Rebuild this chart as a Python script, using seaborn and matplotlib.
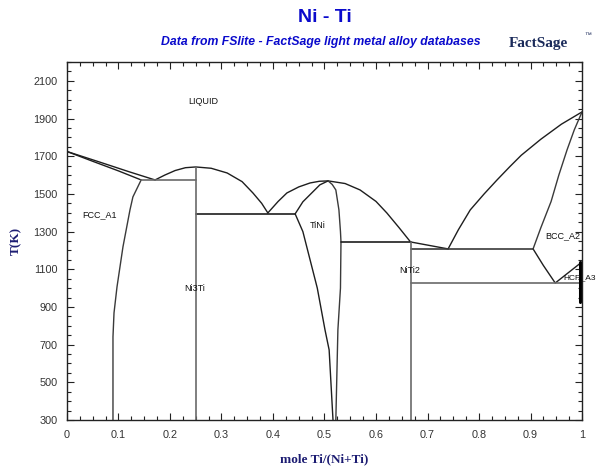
import numpy as np
import pandas as pd
import matplotlib
matplotlib.use("Agg")
import matplotlib.pyplot as plt
from matplotlib.ticker import MultipleLocator, FormatStrFormatter
import seaborn as sns

# phase boundaries, x = mole Ti/(Ni+Ti), T in K
ni_liquidus_x = [0.0, 0.06, 0.12, 0.171]
ni_liquidus_t = [1725, 1672, 1618, 1574]
ni_solidus_x = [0.0, 0.05, 0.10, 0.144]
ni_solidus_t = [1725, 1673, 1622, 1574]
fcc_solvus_x = [0.144, 0.128, 0.1223, 0.1087, 0.0971, 0.0913, 0.0893, 0.0893]
fcc_solvus_t = [1574, 1484, 1415, 1219, 1006, 868, 741, 300]
ni3ti_dome_x = [0.171, 0.19, 0.21, 0.23, 0.25, 0.28, 0.311, 0.34, 0.361, 0.378, 0.39]
ni3ti_dome_t = [1574, 1600, 1624, 1639, 1643, 1636, 1611, 1565, 1505, 1450, 1399]
tini_dome_x = [0.39, 0.41, 0.427, 0.45, 0.472, 0.49, 0.507, 0.54, 0.569, 0.60, 0.621, 0.645, 0.667]
tini_dome_t = [1399, 1460, 1505, 1537, 1558, 1567, 1569, 1555, 1521, 1460, 1399, 1320, 1245]
tini_left_x = [0.507, 0.491, 0.458, 0.443, 0.458, 0.472, 0.486, 0.501, 0.509, 0.5165]
tini_left_t = [1569, 1548, 1458, 1394, 1300, 1150, 1000, 778, 672, 300]
tini_right_x = [0.507, 0.515, 0.522, 0.528, 0.531, 0.532, 0.531, 0.526, 0.522]
tini_right_t = [1569, 1550, 1521, 1415, 1300, 1245, 1000, 778, 300]
niti2_liq_x = [0.667, 0.74]
niti2_liq_t = [1245, 1208]
bcc_liquidus_x = [0.74, 0.76, 0.783, 0.81, 0.835, 0.86, 0.882, 0.92, 0.96, 1.0]
bcc_liquidus_t = [1208, 1310, 1415, 1500, 1574, 1645, 1705, 1790, 1870, 1935]
bcc_solidus_x = [0.905, 0.92, 0.94, 0.955, 0.971, 0.985, 1.0]
bcc_solidus_t = [1208, 1320, 1460, 1600, 1734, 1840, 1935]
bcc_hcp_x = [0.905, 0.925, 0.948, 1.0]
bcc_hcp_t = [1208, 1120, 1027, 1139]
hcp_x = [0.997, 0.997]
hcp_t = [1139, 925]

# invariant lines and compounds
eutectic_x0 = [0.144, 0.25, 0.532, 0.667, 0.667]
eutectic_x1 = [0.25, 0.443, 0.667, 0.905, 1.0]
eutectic_t = [1574, 1394, 1245, 1208, 1027]
compound_x = [0.25, 0.667]
compound_top = [1643, 1245]

phase_labels = ["LIQUID", "FCC_A1", "Ni3Ti", "TiNi", "NiTi2", "BCC_A2", "HCP_A3"]
label_x = [0.235, 0.03, 0.228, 0.472, 0.645, 0.928, 0.963]
label_t = [1990, 1388, 996, 1330, 1091, 1277, 1054]

sns.set_style("ticks")
plt.rcParams["font.family"] = ["Liberation Sans", "DejaVu Sans"]

fig = plt.figure(figsize=(5.97, 4.69), dpi=100)
ax = fig.add_axes([0.1122, 0.1045, 0.8627, 0.7633])

dark = "#1e1e1e"
grey = "#6a6a6a"
curves = [
    (ni_liquidus_x, ni_liquidus_t, dark),
    (ni_solidus_x, ni_solidus_t, dark),
    (fcc_solvus_x, fcc_solvus_t, "#3a3a3a"),
    (ni3ti_dome_x, ni3ti_dome_t, dark),
    (tini_dome_x, tini_dome_t, dark),
    (tini_left_x, tini_left_t, dark),
    (tini_right_x, tini_right_t, "#3a3a3a"),
    (niti2_liq_x, niti2_liq_t, dark),
    (bcc_liquidus_x, bcc_liquidus_t, dark),
    (bcc_solidus_x, bcc_solidus_t, "#3a3a3a"),
    (bcc_hcp_x, bcc_hcp_t, dark),
]
for cx, ct, col in curves:
    sns.lineplot(x=cx, y=ct, sort=False, estimator=None, color=col, lw=1.0, ax=ax)

line_cols = [grey, dark, dark, "#3a3a3a", grey]
for x0, x1, t, col in zip(eutectic_x0, eutectic_x1, eutectic_t, line_cols):
    sns.lineplot(x=[x0, x1], y=[t, t], sort=False, estimator=None, color=col, lw=1.2, ax=ax)
for cx, top in zip(compound_x, compound_top):
    sns.lineplot(x=[cx, cx], y=[top, 300], sort=False, estimator=None, color=grey, lw=1.2, ax=ax)
sns.lineplot(x=hcp_x, y=hcp_t, sort=False, estimator=None, color="black", lw=2.2, ax=ax)

for lab, lx, lt in zip(phase_labels, label_x, label_t):
    fs = 6.0 if lab == "HCP_A3" else 6.5
    ax.text(lx, lt, lab, fontsize=fs, color="#111111", va="center", ha="left", clip_on=False)

ax.set_xlim(0, 1)
ax.set_ylim(300, 2200)
ax.xaxis.set_major_locator(MultipleLocator(0.1))
ax.xaxis.set_minor_locator(MultipleLocator(0.025))
ax.xaxis.set_major_formatter(FormatStrFormatter("%g"))
ax.set_yticks(np.arange(300, 2101, 200))
ax.yaxis.set_minor_locator(MultipleLocator(50))
ax.tick_params(which="both", direction="in", top=True, right=True, width=0.8, color="#222222")
ax.tick_params(which="major", length=5, labelsize=7.8, labelcolor="#333333", pad=7)
ax.tick_params(which="minor", length=3)
for sp in ax.spines.values():
    sp.set_visible(True)
    sp.set_color("#222222")
    sp.set_linewidth(1.0)

navy = "#1c1c72"
ax.set_xlabel("mole Ti/(Ni+Ti)", family=["Liberation Serif", "DejaVu Serif"],
              fontweight="bold", fontsize=9.5, color=navy, labelpad=10)
ax.set_ylabel("T(K)", family=["Liberation Serif", "DejaVu Serif"],
              fontweight="bold", fontsize=9.5, color=navy, labelpad=8)

fig.text(0.545, 0.962, "Ni - Ti", ha="center", va="center", fontsize=14,
         fontweight="bold", color="#0a0acc")
fig.text(0.537, 0.91, "Data from FSlite - FactSage light metal alloy databases",
         ha="center", va="center", fontsize=8.8, fontweight="bold", style="italic",
         color="#0a0acc")
fig.text(0.852, 0.908, "FactSage", ha="left", va="center", fontsize=11,
         fontweight="bold", color="#1a2a5a", family=["Liberation Serif", "DejaVu Serif"])
fig.text(0.978, 0.925, "\u2122", ha="left", va="center", fontsize=5, color="#1a2a5a")

fig.savefig("out.png", dpi=100, facecolor="white")
